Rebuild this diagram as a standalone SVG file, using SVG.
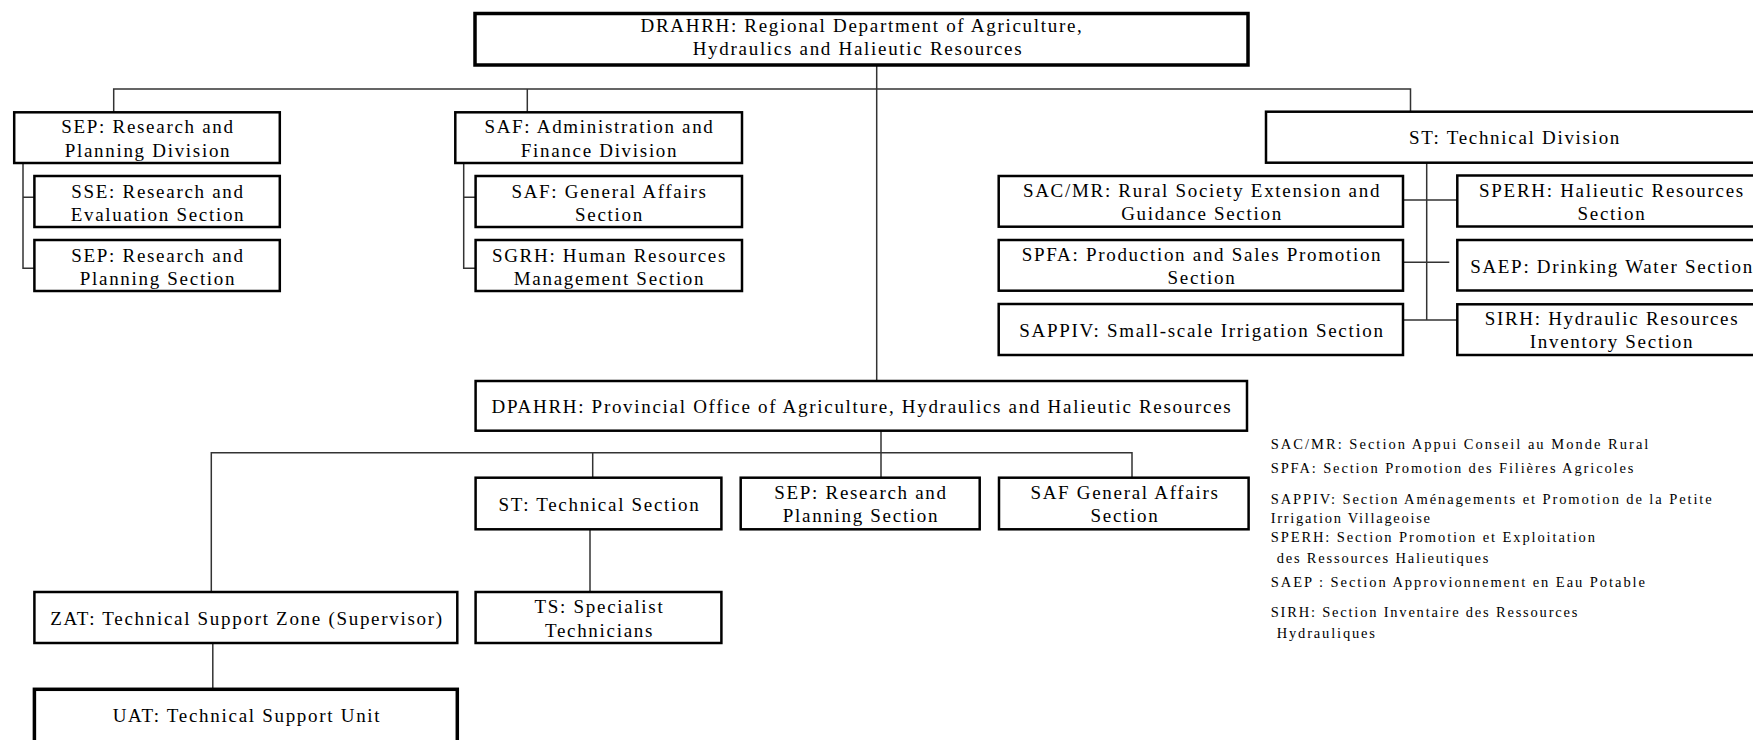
<svg xmlns="http://www.w3.org/2000/svg" width="1753" height="740" viewBox="0 0 1753 740">
  <style>
    .box { fill: #ffffff; stroke: #000000; stroke-width: 2.5; }
    .heavy { stroke-width: 3.5; }
    .link { fill: none; stroke: #333333; stroke-width: 1.5; }
    .lbl { font-family: "Liberation Serif", "Times New Roman", serif; font-size: 19px; letter-spacing: 1.7px; text-anchor: middle; fill: #000000; }
    .note { font-family: "Liberation Serif", "Times New Roman", serif; font-size: 14.5px; fill: #000000; }
  </style>

  <!-- connectors -->
  <g id="connectors">
    <path class="link" d="M113.7 112 V89 H1410.5 V112"/>
    <path class="link" d="M527.3 89 V112"/>
    <path class="link" d="M876.7 65 V381"/>
    <path class="link" d="M23 163 V268.3 H34.4 M23 197.3 H34.4"/>
    <path class="link" d="M463.7 163 V268.3 H475.6 M463.7 197.3 H475.6"/>
    <path class="link" d="M1426.7 162.7 V320 M1403 200 H1457.3 M1403 262.3 H1449.3 M1403 320 H1457.3"/>
    <path class="link" d="M881 431 V477.7"/>
    <path class="link" d="M211.3 592 V452.7 H1132 V477.7"/>
    <path class="link" d="M592.7 452.7 V477.7"/>
    <path class="link" d="M590 529.3 V592"/>
    <path class="link" d="M212.8 640 V689.3"/>
  </g>

  <!-- regional level -->
  <g id="drahrh">
    <rect class="box heavy" x="475" y="13.5" width="773" height="51.5"/>
    <text class="lbl" x="862" y="32.3">DRAHRH: Regional Department of Agriculture,</text>
    <text class="lbl" x="858" y="55">Hydraulics and Halieutic Resources</text>
  </g>

  <g id="sep-division">
    <rect class="box" x="14.2" y="112.3" width="265.6" height="50.7"/>
    <text class="lbl" x="148" y="133.3">SEP: Research and</text>
    <text class="lbl" x="148" y="156.7">Planning Division</text>
  </g>
  <g id="sse">
    <rect class="box" x="34.4" y="176" width="245.4" height="51"/>
    <text class="lbl" x="158" y="197.5">SSE: Research and</text>
    <text class="lbl" x="158" y="220.5">Evaluation Section</text>
  </g>
  <g id="sep-section">
    <rect class="box" x="34.4" y="240" width="245.4" height="51"/>
    <text class="lbl" x="158" y="261.5">SEP: Research and</text>
    <text class="lbl" x="158" y="284.5">Planning Section</text>
  </g>

  <g id="saf-division">
    <rect class="box" x="455.3" y="112.3" width="286.7" height="50.7"/>
    <text class="lbl" x="599.5" y="133.3">SAF: Administration and</text>
    <text class="lbl" x="599.5" y="156.7">Finance Division</text>
  </g>
  <g id="saf-general">
    <rect class="box" x="475.6" y="176" width="266.4" height="51"/>
    <text class="lbl" x="609.5" y="197.5">SAF: General Affairs</text>
    <text class="lbl" x="609.5" y="220.5">Section</text>
  </g>
  <g id="sgrh">
    <rect class="box" x="475.6" y="240" width="266.4" height="51"/>
    <text class="lbl" x="609.5" y="261.5">SGRH: Human Resources</text>
    <text class="lbl" x="609.5" y="284.5">Management Section</text>
  </g>

  <g id="st-division">
    <rect class="box" x="1266" y="111.7" width="500" height="51"/>
    <text class="lbl" x="1515" y="144.3">ST: Technical Division</text>
  </g>
  <g id="sacmr">
    <rect class="box" x="998.7" y="176" width="404.3" height="50.7"/>
    <text class="lbl" x="1202" y="197">SAC/MR: Rural Society Extension and</text>
    <text class="lbl" x="1202" y="220">Guidance Section</text>
  </g>
  <g id="spfa">
    <rect class="box" x="998.7" y="240" width="404.3" height="50.7"/>
    <text class="lbl" x="1202" y="261">SPFA: Production and Sales Promotion</text>
    <text class="lbl" x="1202" y="284">Section</text>
  </g>
  <g id="sappiv">
    <rect class="box" x="998.7" y="304" width="404.3" height="51"/>
    <text class="lbl" x="1202" y="336.7">SAPPIV: Small-scale Irrigation Section</text>
  </g>
  <g id="sperh">
    <rect class="box" x="1457.3" y="175.5" width="310" height="51"/>
    <text class="lbl" x="1612" y="197">SPERH: Halieutic Resources</text>
    <text class="lbl" x="1612" y="220">Section</text>
  </g>
  <g id="saep">
    <rect class="box" x="1457.3" y="240" width="310" height="50.5"/>
    <text class="lbl" x="1612" y="273">SAEP: Drinking Water Section</text>
  </g>
  <g id="sirh">
    <rect class="box" x="1457.3" y="304.3" width="310" height="50.7"/>
    <text class="lbl" x="1612" y="325">SIRH: Hydraulic Resources</text>
    <text class="lbl" x="1612" y="348">Inventory Section</text>
  </g>

  <!-- provincial level -->
  <g id="dpahrh">
    <rect class="box" x="475.6" y="381" width="771.4" height="49.7"/>
    <text class="lbl" x="862" y="412.5">DPAHRH: Provincial Office of Agriculture, Hydraulics and Halieutic Resources</text>
  </g>
  <g id="st-section">
    <rect class="box" x="475.6" y="477.7" width="245.8" height="51.6"/>
    <text class="lbl" x="599.5" y="510.5">ST: Technical Section</text>
  </g>
  <g id="sep-provincial">
    <rect class="box" x="740.7" y="477.7" width="239" height="51.6"/>
    <text class="lbl" x="861" y="498.7">SEP: Research and</text>
    <text class="lbl" x="861" y="522">Planning Section</text>
  </g>
  <g id="saf-provincial">
    <rect class="box" x="999" y="477.7" width="249.6" height="51.6"/>
    <text class="lbl" x="1125" y="498.7">SAF General Affairs</text>
    <text class="lbl" x="1125" y="522">Section</text>
  </g>
  <g id="zat">
    <rect class="box" x="34.4" y="592" width="422.9" height="51"/>
    <text class="lbl" x="247" y="624.8">ZAT: Technical Support Zone (Supervisor)</text>
  </g>
  <g id="ts">
    <rect class="box" x="475.6" y="592" width="245.8" height="51"/>
    <text class="lbl" x="599.5" y="613">TS: Specialist</text>
    <text class="lbl" x="599.5" y="636.5">Technicians</text>
  </g>
  <g id="uat">
    <rect class="box heavy" x="34.4" y="689.3" width="422.9" height="54"/>
    <text class="lbl" x="247" y="722">UAT: Technical Support Unit</text>
  </g>

  <!-- abbreviations -->
  <g id="legend">
    <text class="note" x="1270.7" y="449.3" textLength="377.7" lengthAdjust="spacing">SAC/MR: Section Appui Conseil au Monde Rural</text>
    <text class="note" x="1270.7" y="473.3" textLength="362.7" lengthAdjust="spacing">SPFA: Section Promotion des Filières Agricoles</text>
    <text class="note" x="1270.7" y="504" textLength="441" lengthAdjust="spacing">SAPPIV: Section Aménagements et Promotion de la Petite</text>
    <text class="note" x="1270.7" y="522.7" textLength="159.3" lengthAdjust="spacing">Irrigation Villageoise</text>
    <text class="note" x="1270.7" y="541.7" textLength="324.3" lengthAdjust="spacing">SPERH: Section Promotion et Exploitation</text>
    <text class="note" x="1276.7" y="562.7" textLength="211.7" lengthAdjust="spacing">des Ressources Halieutiques</text>
    <text class="note" x="1270.7" y="586.7" textLength="374.3" lengthAdjust="spacing">SAEP : Section Approvionnement en Eau Potable</text>
    <text class="note" x="1270.7" y="616.7" textLength="306.7" lengthAdjust="spacing">SIRH: Section Inventaire des Ressources</text>
    <text class="note" x="1276.7" y="638.3" textLength="98.3" lengthAdjust="spacing">Hydrauliques</text>
  </g>
</svg>
